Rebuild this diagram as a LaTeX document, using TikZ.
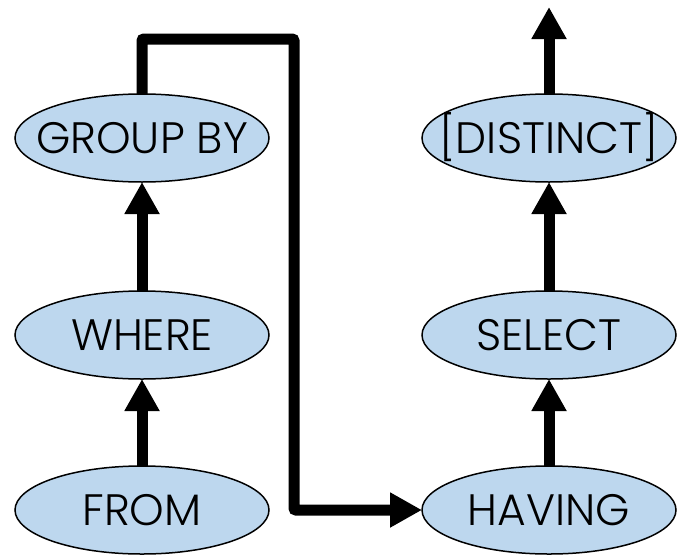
\documentclass[tikz,border=0pt]{standalone}
\usepackage{fontspec}
\setmainfont{Poppins}[UprightFont=* Light]
\usetikzlibrary{positioning,shapes.geometric,arrows.meta}

\definecolor{clausefill}{RGB}{189,215,238}
\newcommand{\kw}[1]{\makebox[0pt]{#1}}

\begin{document}
\begin{tikzpicture}[
    x=1pt,y=-1pt,
    clause/.style={
      ellipse,draw,fill=clausefill,line width=1.5pt,
      minimum width=254pt,minimum height=88pt,inner sep=0pt,outer sep=0pt,
      text height=31pt,text depth=0pt,
      font=\fontsize{44}{50}\selectfont
    },
    flow/.style={
      line width=11pt,rounded corners=2pt,
      -{Triangle[length=32pt,width=33pt]}
    }]

  \useasboundingbox (0,0) rectangle (679,554);

  % left column
  \node[clause] (from) at (142,510) {\kw{FROM}};
  \node[clause,above=87pt of from] (where) {\kw{WHERE}};
  \node[clause,above=109pt of where] (groupby) {\kw{GROUP BY}};

  % right column
  \node[clause,right=153pt of from] (having) {\kw{HAVING}};
  \node[clause,above=87pt of having] (select) {\kw{SELECT}};
  \node[clause,above=109pt of select] (distinct) {\kw{[DISTINCT]}};

  \coordinate (bend) at (294,39);
  \coordinate (out) at ([yshift=87pt]distinct.north);

  \draw[flow] (from) -- (where);
  \draw[flow] (where) -- (groupby);
  \draw[flow] (groupby.north) |- (bend) |- (having.west);
  \draw[flow] (having) -- (select);
  \draw[flow] (select) -- (distinct);
  \draw[flow] (distinct.north) -- (out);
\end{tikzpicture}
\end{document}
